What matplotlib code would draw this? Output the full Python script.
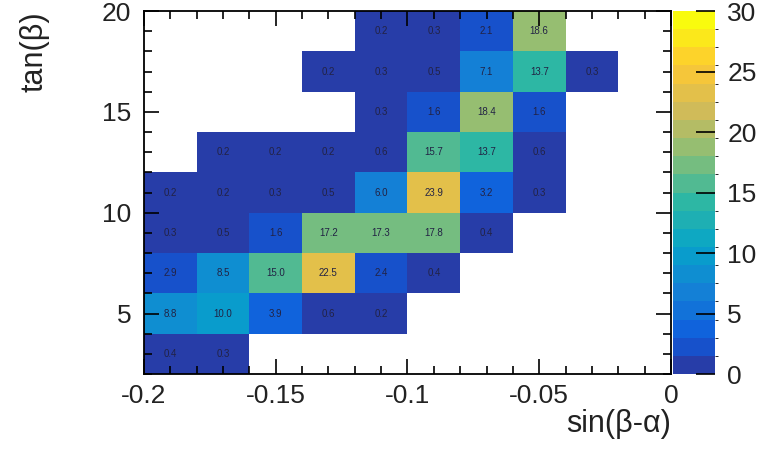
import numpy as np
import matplotlib
matplotlib.use("Agg")
import matplotlib.pyplot as plt
from matplotlib.colors import LinearSegmentedColormap, ListedColormap, BoundaryNorm
from matplotlib.ticker import MultipleLocator

plt.rcParams['font.family'] = ['Liberation Sans', 'DejaVu Sans']

# bin edges
x_edges = np.arange(-0.20, 0.0001, 0.02)   # sin(beta-alpha)
y_edges = np.arange(2, 20.001, 2)          # tan(beta)

n = None
# rows from tan(beta)=2-4 up to 18-20, columns from sin=-0.20 to 0
counts = [
    [0.4, 0.3, n,    n,    n,    n,    n,    n,    n,   n],
    [8.8, 10.0, 3.9, 0.6,  0.2,  n,    n,    n,    n,   n],
    [2.9, 8.5, 15.0, 22.5, 2.4,  0.4,  n,    n,    n,   n],
    [0.3, 0.5, 1.6,  17.2, 17.3, 17.8, 0.4,  n,    n,   n],
    [0.2, 0.2, 0.3,  0.5,  6.0,  23.9, 3.2,  0.3,  n,   n],
    [n,   0.2, 0.2,  0.2,  0.6,  15.7, 13.7, 0.6,  n,   n],
    [n,   n,   n,    n,    0.3,  1.6,  18.4, 1.6,  n,   n],
    [n,   n,   n,    0.2,  0.3,  0.5,  7.1,  13.7, 0.3, n],
    [n,   n,   n,    n,    0.2,  0.3,  2.1,  18.6, n,   n],
]

z = np.array([[np.nan if v is None else v for v in row] for row in counts])
zm = np.ma.masked_invalid(z)

# ROOT kBird palette, 20 contour levels
stops = [0.0, 0.125, 0.25, 0.375, 0.5, 0.625, 0.75, 0.875, 1.0]
red = [0.2082, 0.0592, 0.0780, 0.0232, 0.1802, 0.5301, 0.8186, 0.9956, 0.9764]
green = [0.1664, 0.3599, 0.5041, 0.6419, 0.7178, 0.7492, 0.7328, 0.7862, 0.9832]
blue = [0.5293, 0.8684, 0.8385, 0.7914, 0.6425, 0.4662, 0.3499, 0.1968, 0.0539]
bird = LinearSegmentedColormap.from_list(
    'bird', [(s, (r, g, b)) for s, r, g, b in zip(stops, red, green, blue)])
nlev = 20
cmap = ListedColormap([bird(min((i + 0.99) / nlev, 1.0)) for i in range(nlev)])
levels = np.linspace(0, 30, nlev + 1)
norm = BoundaryNorm(levels, cmap.N)

fig = plt.figure(figsize=(7.63, 4.49), dpi=100)
ax = fig.add_axes([0.1887, 0.167, 0.6907, 0.8085])
cax = fig.add_axes([0.882, 0.167, 0.055, 0.8085])

mesh = ax.pcolormesh(x_edges, y_edges, zm, cmap=cmap, norm=norm)

xc = 0.5 * (x_edges[:-1] + x_edges[1:])
yc = 0.5 * (y_edges[:-1] + y_edges[1:])
for i, yy in enumerate(yc):
    for j, xx in enumerate(xc):
        if not np.isnan(z[i, j]):
            ax.text(xx, yy, "%.1f" % z[i, j], ha='center', va='center',
                    fontsize=7, color='#222244')

ax.set_xlim(-0.2, 0)
ax.set_ylim(2, 20)
ax.xaxis.set_major_locator(MultipleLocator(0.05))
ax.xaxis.set_minor_locator(MultipleLocator(0.01))
ax.yaxis.set_major_locator(MultipleLocator(5))
ax.yaxis.set_minor_locator(MultipleLocator(1))
ax.set_xticks([-0.2, -0.15, -0.1, -0.05, 0])
ax.set_xticklabels(['-0.2', '-0.15', '-0.1', '-0.05', '0'])
ax.tick_params(which='both', direction='in', top=True, right=True,
               labelsize=19, labelcolor='#222222', width=1.2)
ax.tick_params(which='major', length=11)
ax.tick_params(axis='x', which='major', pad=7)
ax.tick_params(axis='y', which='major', pad=9)
ax.tick_params(which='minor', length=5.5)
for s in ax.spines.values():
    s.set_linewidth(1.3)

ax.set_xlabel('sin(β-α)', fontsize=22, color='#222222', loc='right', labelpad=1)
ax.set_ylabel('tan(β)', fontsize=22, color='#222222', loc='top', labelpad=38)

cb = fig.colorbar(mesh, cax=cax, ticks=np.arange(0, 31, 5))
cb.outline.set_visible(False)
cax.tick_params(direction='in', length=14, width=1.2, labelsize=19,
                labelcolor='#222222', pad=9)
cax.set_yticklabels(['0', '5', '10', '15', '20', '25', '30'])

fig.savefig('out.png', dpi=100)
